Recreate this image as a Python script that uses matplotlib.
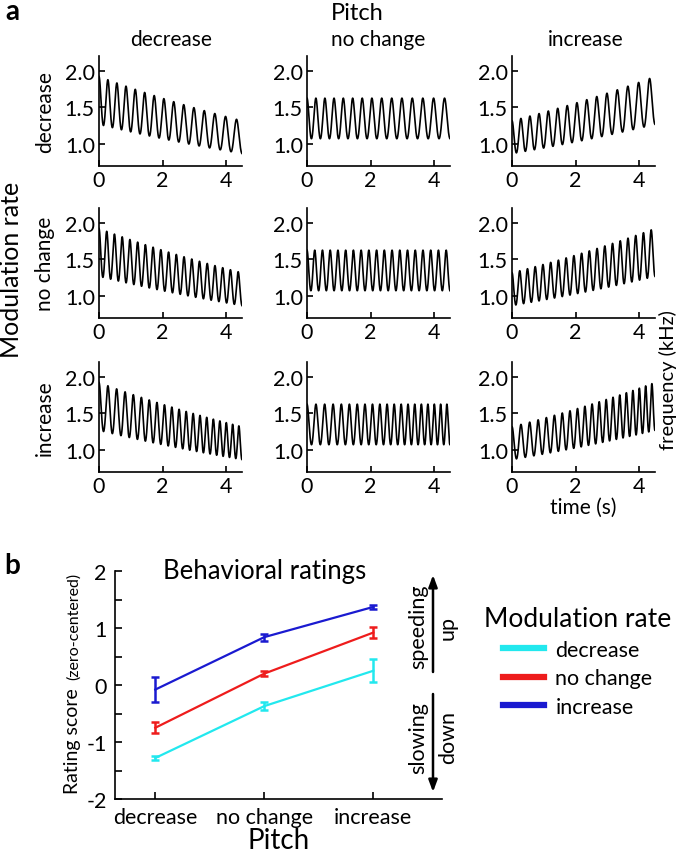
import numpy as np
import matplotlib
matplotlib.use("Agg")
import matplotlib.pyplot as plt
from matplotlib.lines import Line2D
from matplotlib.patches import FancyArrowPatch

plt.rcParams['font.family'] = ['Lato', 'DejaVu Sans']
plt.rcParams['axes.unicode_minus'] = False

# ---- panel a: stimulus parameters ----
conditions = ["decrease", "no change", "increase"]
duration = 4.5                                  # s
pitch_start = [1.56, 1.32, 1.07]                # kHz, geometric centre at t=0 (per pitch column)
pitch_end = [1.07, 1.32, 1.56]                  # kHz, at t=end
mod_depth = 0.3                                 # octaves (+/-)
rate_start = [3.6, 4.11, 3.5]                   # Hz, per modulation-rate row
rate_end = [2.84, 4.11, 5.17]

# ---- panel b: behavioral ratings ----
pitch_labels = ["decrease", "no change", "increase"]
rating_mod_decrease = [-1.28, -0.37, 0.25]
err_mod_decrease = [0.04, 0.07, 0.20]
rating_mod_nochange = [-0.75, 0.20, 0.92]
err_mod_nochange = [0.10, 0.05, 0.10]
rating_mod_increase = [-0.08, 0.84, 1.37]
err_mod_increase = [0.22, 0.06, 0.04]
series_colors = ["#22e8ee", "#ee1c1c", "#1a1ad0"]

W, H = 681, 853
fig = plt.figure(figsize=(W / 100, H / 100), dpi=100)


def rect(left, top, right, bottom):
    return [left / W, 1 - bottom / H, (right - left) / W, (bottom - top) / H]


def fx(x):
    return x / W


def fy(y):
    return 1 - y / H


t = np.linspace(0, duration, 3000)
col_left = [99, 307, 512]
row_top = [57, 209, 363]
for r in range(3):
    for c in range(3):
        ax = fig.add_axes(rect(col_left[c], row_top[r], col_left[c] + 143, row_top[r] + 110))
        centre = pitch_start[c] * (pitch_end[c] / pitch_start[c]) ** (t / duration)
        rate = rate_start[r] + (rate_end[r] - rate_start[r]) * t / (2 * duration)
        phase = 2 * np.pi * rate * t
        freq = centre * 2 ** (mod_depth * np.cos(phase))
        ax.plot(t, freq, color="black", lw=1.2)
        ax.set_xlim(0, 4.5)
        ax.set_ylim(0.7, 2.2)
        ax.set_xticks([0, 2, 4])
        ax.set_yticks([1.0, 1.5, 2.0])
        ax.set_yticklabels(["1.0", "1.5", "2.0"])
        ax.tick_params(direction="in", length=4, width=1.2, labelsize=15.5, pad=3)
        for s in ["top", "right"]:
            ax.spines[s].set_visible(False)
        for s in ["left", "bottom"]:
            ax.spines[s].set_linewidth(1.2)

fig.text(fx(12), fy(12), "a", fontsize=20, fontweight="bold", ha="center", va="center")
fig.text(fx(357), fy(14), "Pitch", fontsize=17, ha="center", va="center")
for x, lab in zip([171, 378, 586], conditions):
    fig.text(fx(x), fy(40), lab, fontsize=15, ha="center", va="center")
for y, lab in zip([112, 264, 418], conditions):
    fig.text(fx(45), fy(y), lab, fontsize=15, rotation=90, ha="center", va="center")
fig.text(fx(12), fy(270), "Modulation rate", fontsize=18, rotation=90, ha="center", va="center")
fig.text(fx(668), fy(380), "frequency (kHz)", fontsize=14.5, rotation=90, ha="center", va="center")
fig.text(fx(583), fy(508), "time (s)", fontsize=15, ha="center", va="center")

# ---- panel b ----
axb = fig.add_axes(rect(115, 572, 442, 800))
xpos = np.arange(len(pitch_labels))
series = [
    ("decrease", rating_mod_decrease, err_mod_decrease),
    ("no change", rating_mod_nochange, err_mod_nochange),
    ("increase", rating_mod_increase, err_mod_increase),
]
handles = []
for (lab, vals, errs), col in zip(series, series_colors):
    axb.errorbar(xpos, vals, yerr=errs, color=col, lw=1.6, elinewidth=1.8,
                 capsize=3, capthick=1.8)
    handles.append(Line2D([], [], color=col, lw=4.5, label=lab))

axb.set_xlim(-0.37, 2.63)
axb.set_ylim(-2, 2)
axb.set_xticks(xpos)
axb.set_xticklabels(pitch_labels)
axb.set_yticks([-2, -1, 0, 1, 2])
axb.set_yticks(np.arange(-2, 2.01, 0.5), minor=True)
axb.tick_params(which="both", direction="in", length=5, width=1.2, labelsize=15.5, pad=6)
for s in ["top", "right"]:
    axb.spines[s].set_visible(False)
for s in ["left", "bottom"]:
    axb.spines[s].set_linewidth(1.2)
axb.set_xlabel("Pitch", fontsize=20, labelpad=0)

fig.text(fx(12), fy(566), "b", fontsize=20, fontweight="bold", ha="center", va="center")
fig.text(fx(265), fy(572), "Behavioral ratings", fontsize=18.5, ha="center", va="center")
fig.text(fx(81), fy(794), "Rating score", fontsize=14, rotation=90, ha="right", va="bottom")
fig.text(fx(81), fy(573), "(zero-centered)", fontsize=11.5, rotation=90, ha="right", va="top")

arrow_kw = dict(arrowstyle="-|>,head_length=3.5,head_width=1.3", mutation_scale=2,
                color="black", lw=1.8, shrinkA=0, shrinkB=0)
fig.add_artist(FancyArrowPatch((fx(433), fy(673)), (fx(433), fy(576)),
                               transform=fig.transFigure, **arrow_kw))
fig.add_artist(FancyArrowPatch((fx(433), fy(695)), (fx(433), fy(793)),
                               transform=fig.transFigure, **arrow_kw))
fig.text(fx(418), fy(627), "speeding", fontsize=15.5, rotation=90, ha="center", va="center")
fig.text(fx(448), fy(628), "up", fontsize=15.5, rotation=90, ha="center", va="center")
fig.text(fx(418), fy(738), "slowing", fontsize=15.5, rotation=90, ha="center", va="center")
fig.text(fx(448), fy(738), "down", fontsize=15.5, rotation=90, ha="center", va="center")

fig.legend(handles=handles, title="Modulation rate", loc="upper left",
           bbox_to_anchor=(fx(484), fy(607)), frameon=False, fontsize=15.5,
           title_fontsize=19, handlelength=1.9, handletextpad=0.55,
           labelspacing=0.4, borderpad=0, borderaxespad=0)
fig.savefig("out.png", dpi=100)
